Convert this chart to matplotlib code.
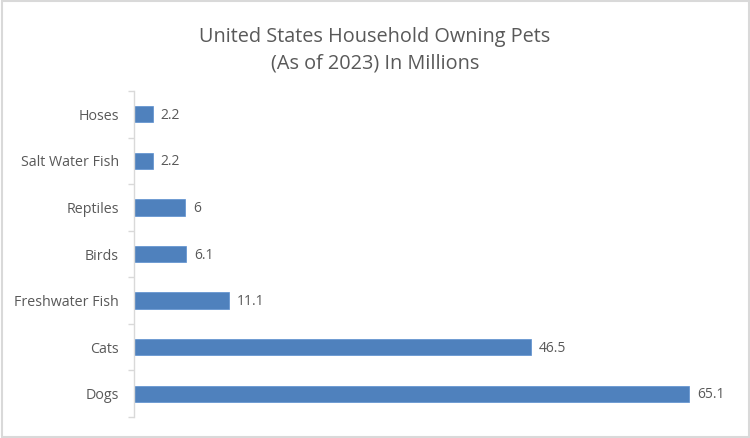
import matplotlib
matplotlib.use("Agg")
import matplotlib.pyplot as plt
from matplotlib.patches import Rectangle

categories = ["Hoses", "Salt Water Fish", "Reptiles", "Birds", "Freshwater Fish", "Cats", "Dogs"]
values = [2.2, 2.2, 6, 6.1, 11.1, 46.5, 65.1]
value_labels = ["2.2", "2.2", "6", "6.1", "11.1", "46.5", "65.1"]
title = "United States Household Owning Pets\n(As of 2023) In Millions"

plt.rcParams['font.family'] = ['Open Sans', 'DejaVu Sans']
txt = '#595959'
grid = '#d9d9d9'

fig = plt.figure(figsize=(7.5, 4.38), dpi=100)
ax = fig.add_axes([134/750, 21/438, 597/750, 326/438])

n = len(categories)
ypos = list(range(n))
ax.barh(ypos, values, height=0.35, color='#4f81bd', edgecolor='#5b8fd0', linewidth=0.5)
ax.set_ylim(n - 0.5, -0.5)
ax.set_xlim(0, 70)

ax.set_yticks(ypos)
ax.set_yticklabels(categories, fontsize=10.3, color=txt)
ax.tick_params(axis='y', which='major', length=0, pad=11)
ax.set_yticks([i - 0.5 for i in range(n + 1)], minor=True)
ax.tick_params(axis='y', which='minor', length=4, color=grid, width=1)
ax.set_xticks([])

for s in ['top', 'right', 'bottom']:
    ax.spines[s].set_visible(False)
ax.spines['left'].set_color(grid)
ax.spines['left'].set_linewidth(1)

for y, v, lab in zip(ypos, values, value_labels):
    ax.annotate(lab, (v, y), xytext=(8, -1), textcoords='offset pixels',
                va='center', ha='left', fontsize=10, color=txt)

fig.text(0.5, 1 - 50/438, title, ha='center', va='center', fontsize=14.3, color=txt, linespacing=1.45)

fig.patches.append(Rectangle((0.002, 0.003), 0.996, 0.994, transform=fig.transFigure,
                             fill=False, edgecolor=grid, linewidth=1.5))

fig.savefig("out.png", dpi=100)
